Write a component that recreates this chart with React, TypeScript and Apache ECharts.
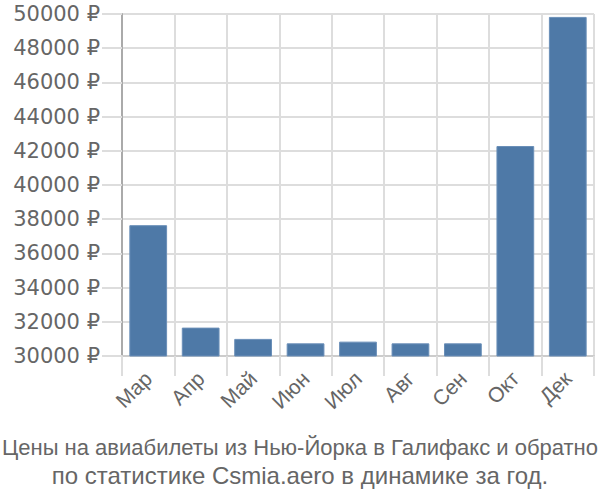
import React, { useEffect, useRef } from "react";
import * as echarts from "echarts";

const categories = ["Мар", "Апр", "Май", "Июн", "Июл", "Авг", "Сен", "Окт", "Дек"];
const prices = [37650, 31660, 31000, 30740, 30840, 30740, 30740, 42280, 49830];
const titleLines = [
  "Цены на авиабилеты из Нью-Йорка в Галифакс и обратно",
  "по статистике Csmia.aero в динамике за год.",
];

export default function App() {
  const ref = useRef<HTMLDivElement>(null);
  useEffect(() => {
    if (!ref.current) return;
    const chart = echarts.init(ref.current, undefined, { renderer: "svg" });
    const titleStyle = {
      fontFamily: "Liberation Sans, Arial, sans-serif",
      fontWeight: "normal",
      color: "#666",
    };
    chart.setOption({
      animation: false,
      title: [
        {
          text: titleLines[0],
          left: "center",
          top: 431,
          textStyle: { ...titleStyle, fontSize: 22, lineHeight: 22 },
        },
        {
          text: titleLines[1],
          left: "center",
          top: 458,
          textStyle: { ...titleStyle, fontSize: 24, lineHeight: 24 },
        },
      ],
      grid: { left: 122, right: 6, top: 14, bottom: 144, containLabel: false },
      xAxis: {
        type: "category",
        data: categories,
        axisLine: { show: true, lineStyle: { color: "#ccc", width: 2 } },
        axisTick: { show: true, length: 20, lineStyle: { color: "#ddd", width: 2 } },
        splitLine: { show: true, lineStyle: { color: "#ddd", width: 2 } },
        axisLabel: {
          rotate: 45,
          fontSize: 21,
          color: "#666",
          fontFamily: "Liberation Sans, Arial, sans-serif",
          margin: 19,
        },
      },
      yAxis: {
        type: "value",
        min: 30000,
        max: 50000,
        interval: 2000,
        axisLine: { show: true, lineStyle: { color: "#aaa", width: 2 } },
        axisTick: { show: true, length: 20, lineStyle: { color: "#ddd", width: 2 } },
        splitLine: { show: true, lineStyle: { color: "#ddd", width: 2 } },
        axisLabel: {
          formatter: (v: number) => v + " ₽",
          fontSize: 21,
          color: "#666",
          fontFamily: "DejaVu Sans, sans-serif",
          margin: 22,
        },
      },
      series: [
        {
          type: "bar",
          data: prices,
          barWidth: "72%",
          itemStyle: { color: "#4e79a7", borderColor: "#6a8fb8", borderWidth: 1 },
        },
      ],
    });
    return () => chart.dispose();
  }, []);
  return <div ref={ref} style={{ width: 600, height: 500, position: "absolute", left: 0, top: 0 }} />;
}
